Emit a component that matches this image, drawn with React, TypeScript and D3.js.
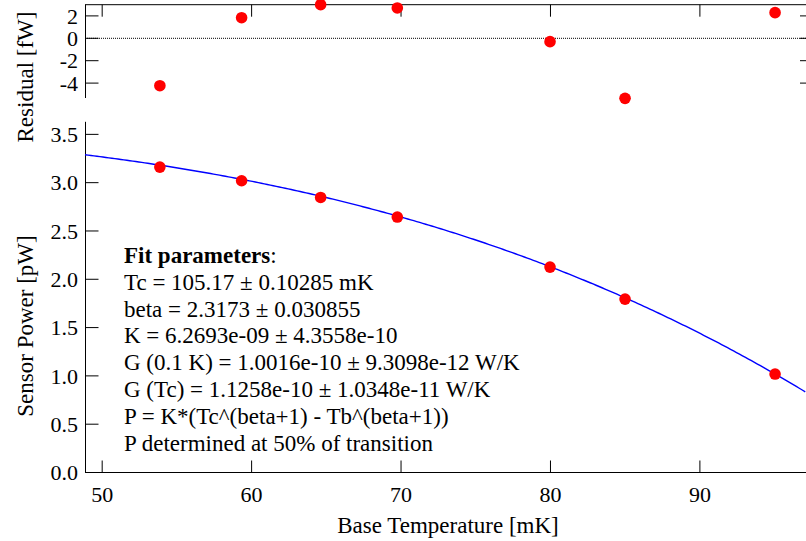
import React from "react";
import * as d3 from "d3";

// ---- data ----
const baseTemps = [53.86, 59.33, 64.62, 69.75, 79.97, 84.99, 95.03];
const sensorPower = [3.161, 3.02, 2.847, 2.644, 2.126, 1.795, 1.019];
const residuals = [-4.23, 1.84, 3.0, 2.71, -0.3, -5.36, 2.29];
const xTicks = [50, 60, 70, 80, 90];
const powerTicks = [0, 0.5, 1, 1.5, 2, 2.5, 3, 3.5];
const residualTicks = [-4, -2, 0, 2];
// fit parameters (as printed in the chart)
const fitTcK = 0.10517;
const fitBeta = 2.3173;
const fitK = 6.2693e-9;
const fitLines = [
  "Tc = 105.17 ± 0.10285 mK",
  "beta = 2.3173 ± 0.030855",
  "K = 6.2693e-09 ± 4.3558e-10",
  "G (0.1 K) = 1.0016e-10 ± 9.3098e-12 W/K",
  "G (Tc) = 1.1258e-10 ± 1.0348e-11 W/K",
  "P = K*(Tc^(beta+1) - Tb^(beta+1))",
  "P determined at 50% of transition",
];

const W = 806;
const H = 541;
const FONT = "'Liberation Serif', 'Times New Roman', serif";

export default function App() {
  const left = 85.5;
  const right = 806;
  const x = d3.scaleLinear().domain([48.85, 97.1]).range([85, 806]);
  const y = d3.scaleLinear().domain([0, 3.63]).range([472.5, 121.8]);
  const yr = d3.scaleLinear().domain([-5.33, 3.0]).range([98, 4.7]);

  const fitP = (tmK: number) =>
    fitK * (Math.pow(fitTcK, fitBeta + 1) - Math.pow(tmK / 1000, fitBeta + 1)) * 1e12;
  const curveT = d3.range(48.85, 97.1001, 0.2);
  const line = d3
    .line<number>()
    .x((t) => x(t))
    .y((t) => y(fitP(t)));

  const fs = 22;
  const fsT = 23;

  return (
    <svg
      width={W}
      height={H}
      style={{ position: "absolute", left: 0, top: 0, background: "#fff" }}
      fontFamily={FONT}
    >
      <rect x={0} y={0} width={W} height={H} fill="#fff" />
      {/* ---------- residual panel ---------- */}
      <line x1={85} x2={right} y1={4.7} y2={4.7} stroke="#000" strokeWidth={1} />
      <line x1={left} x2={left} y1={4.7} y2={98} stroke="#000" strokeWidth={1} />
      {xTicks.map((t) => (
        <line key={"rt" + t} x1={x(t)} x2={x(t)} y1={4.7} y2={16.7} stroke="#000" strokeWidth={1} />
      ))}
      <line
        x1={85}
        x2={right}
        y1={yr(0)}
        y2={yr(0)}
        stroke="#000"
        strokeWidth={1}
        strokeDasharray="1,1"
      />
      {residualTicks.map((t) => (
        <g key={"ry" + t}>
          <line x1={left} x2={left + 13} y1={yr(t)} y2={yr(t)} stroke="#000" strokeWidth={1} />
          <line x1={800} x2={806} y1={yr(t)} y2={yr(t)} stroke="#000" strokeWidth={1} />
          <text x={78} y={yr(t) + 7.7} textAnchor="end" fontSize={fs}>
            {t < 0 ? "-" + Math.abs(t) : String(t)}
          </text>
        </g>
      ))}
      {baseTemps.map((t, i) => (
        <circle key={"rc" + i} cx={x(t)} cy={yr(residuals[i])} r={5.8} fill="#ff0000" />
      ))}
      <text
        transform={`translate(33,77) rotate(-90)`}
        textAnchor="middle"
        fontSize={fsT}
      >
        Residual [fW]
      </text>

      {/* ---------- main panel ---------- */}
      <line x1={left} x2={left} y1={121.8} y2={472.5} stroke="#000" strokeWidth={1} />
      <line x1={85} x2={right} y1={472.5} y2={472.5} stroke="#000" strokeWidth={1} />
      {powerTicks.map((t) => (
        <g key={"py" + t}>
          <line x1={left} x2={left + 13} y1={y(t)} y2={y(t)} stroke="#000" strokeWidth={1} />
          <text x={78} y={y(t) + 7.7} textAnchor="end" fontSize={fs}>
            {t.toFixed(1)}
          </text>
        </g>
      ))}
      {xTicks.map((t) => (
        <g key={"px" + t}>
          <line x1={x(t)} x2={x(t)} y1={472.5} y2={460.5} stroke="#000" strokeWidth={1} />
          <text x={x(t)} y={501.7} textAnchor="middle" fontSize={fs}>
            {t}
          </text>
        </g>
      ))}
      <path d={line(curveT) || ""} fill="none" stroke="#0000ff" strokeWidth={1.4} />
      {baseTemps.map((t, i) => (
        <circle key={"pc" + i} cx={x(t)} cy={y(sensorPower[i])} r={5.8} fill="#ff0000" />
      ))}
      <text
        transform={`translate(33,326) rotate(-90)`}
        textAnchor="middle"
        fontSize={fsT}
      >
        Sensor Power [pW]
      </text>
      <text x={448} y={533} textAnchor="middle" fontSize={fsT}>
        Base Temperature [mK]
      </text>

      {/* ---------- fit annotation ---------- */}
      <text x={124} y={263} fontSize={fsT}>
        <tspan fontWeight="bold">Fit parameters</tspan>:
      </text>
      {fitLines.map((s, i) => (
        <text key={"fl" + i} x={124} y={263 + 26.8 * (i + 1)} fontSize={fsT}>
          {s}
        </text>
      ))}
    </svg>
  );
}
